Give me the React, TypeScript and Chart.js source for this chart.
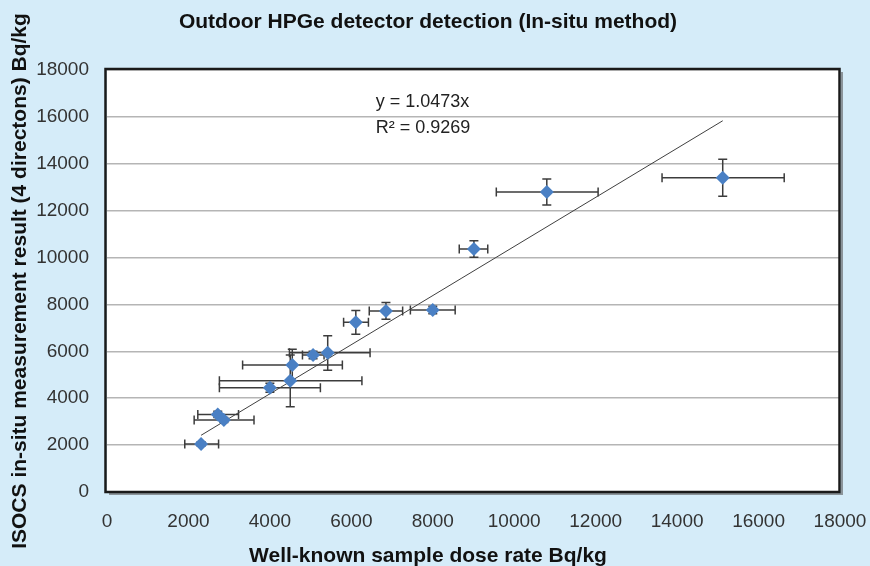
import { useEffect, useRef } from "react";
import { Chart, registerables } from "chart.js";

Chart.register(...registerables);

// Measured points (x: well-known sample dose rate, y: ISOCS in-situ result), Bq/kg
const xValues = [2310, 2720, 2870, 4000, 4500, 4550, 5060, 5420, 6110, 6850, 8000, 9010, 10800, 15120];
const yValues = [2050, 3310, 3070, 4450, 4740, 5420, 5840, 5940, 7240, 7720, 7760, 10370, 12800, 13400];
// Error bar extents
const xLow = [1910, 2230, 2140, 2760, 2760, 3330, 4800, 4480, 5810, 6440, 7450, 8650, 9560, 13630];
const xHigh = [2740, 3230, 3610, 5240, 6260, 5780, 5330, 6460, 6420, 7260, 8550, 9350, 12060, 16630];
const yLow = [1960, 3180, 2960, 4260, 3640, 4750, 5680, 5190, 6730, 7370, 7600, 10010, 12240, 12610];
const yHigh = [2140, 3440, 3180, 4640, 5840, 6090, 6000, 6670, 7740, 8080, 7920, 10720, 13350, 14190];

// Linear trendline through origin
const trendSlope = 1.0473;
const trendR2 = 0.9269;
const trendXStart = 2310;
const trendXEnd = 15120;

// Axis ticks
const axisMin = 0;
const axisMax = 18000;
const axisStep = 2000;

const titleText = "Outdoor HPGe detector detection (In-situ method)";
const xTitle = "Well-known sample dose rate Bq/kg";
const yTitle = "ISOCS in-situ measurement result (4 directons) Bq/kg";
const equationLines = [`y = ${trendSlope}x`, `R² = ${trendR2}`];
const equationAnchor = { x: 6600, y: 16650 };

const BG = "#d5ecf9";
const FONT = "'Liberation Sans', Arial, sans-serif";

export default function App() {
  const canvasRef = useRef<HTMLCanvasElement | null>(null);

  useEffect(() => {
    document.body.style.margin = "0";
    const canvas = canvasRef.current;
    if (!canvas) return;

    const backgroundPlugin = {
      id: "bgPlugin",
      beforeDraw(chart: any) {
        const { ctx, width, height, chartArea } = chart;
        ctx.save();
        ctx.fillStyle = BG;
        ctx.fillRect(0, 0, width, height);
        ctx.fillStyle = "#ffffff";
        ctx.fillRect(chartArea.left, chartArea.top, chartArea.right - chartArea.left, chartArea.bottom - chartArea.top);
        ctx.restore();
      },
    };

    const errorBarPlugin = {
      id: "errorBars",
      beforeDatasetsDraw(chart: any) {
        const { ctx } = chart;
        const xs = chart.scales.x;
        const ys = chart.scales.y;
        const cap = 4.5;
        ctx.save();
        ctx.strokeStyle = "#3c3c3c";
        ctx.lineWidth = 1.5;
        for (let i = 0; i < xValues.length; i++) {
          const px = xs.getPixelForValue(xValues[i]);
          const py = ys.getPixelForValue(yValues[i]);
          const x0 = xs.getPixelForValue(xLow[i]);
          const x1 = xs.getPixelForValue(xHigh[i]);
          const y0 = ys.getPixelForValue(yLow[i]);
          const y1 = ys.getPixelForValue(yHigh[i]);
          ctx.beginPath();
          ctx.moveTo(x0, py);
          ctx.lineTo(x1, py);
          ctx.moveTo(x0, py - cap);
          ctx.lineTo(x0, py + cap);
          ctx.moveTo(x1, py - cap);
          ctx.lineTo(x1, py + cap);
          ctx.moveTo(px, y0);
          ctx.lineTo(px, y1);
          ctx.moveTo(px - cap, y0);
          ctx.lineTo(px + cap, y0);
          ctx.moveTo(px - cap, y1);
          ctx.lineTo(px + cap, y1);
          ctx.stroke();
        }
        ctx.restore();
      },
    };

    const framePlugin = {
      id: "framePlugin",
      afterDraw(chart: any) {
        const { ctx, chartArea } = chart;
        const { left, top, right, bottom } = chartArea;
        ctx.save();
        ctx.strokeStyle = "rgba(90,90,90,0.6)";
        ctx.lineWidth = 2;
        ctx.beginPath();
        ctx.moveTo(right + 2, top + 2);
        ctx.lineTo(right + 2, bottom + 2);
        ctx.lineTo(left + 2, bottom + 2);
        ctx.stroke();
        ctx.strokeStyle = "#1a1a1a";
        ctx.lineWidth = 2.5;
        ctx.strokeRect(left - 1.5, top - 1, right - left + 1, bottom - top + 1);
        const xs = chart.scales.x;
        const ys = chart.scales.y;
        const ex = xs.getPixelForValue(equationAnchor.x);
        const ey = ys.getPixelForValue(equationAnchor.y);
        ctx.fillStyle = "#222222";
        ctx.font = `18px ${FONT}`;
        ctx.textAlign = "left";
        ctx.textBaseline = "middle";
        equationLines.forEach((t, i) => ctx.fillText(t, ex, ey + i * 26));
        ctx.restore();
      },
    };

    const tickFont = { family: FONT, size: 19 };
    const boldFont = { family: FONT, size: 21, weight: "bold" as const };

    const chart = new Chart(canvas, {
      type: "scatter",
      data: {
        datasets: [
          {
            label: "Measured",
            data: xValues.map((x, i) => ({ x, y: yValues[i] })),
            pointStyle: "rectRot",
            pointRadius: 7,
            pointHoverRadius: 7,
            backgroundColor: "#4a80c4",
            borderColor: "#4a80c4",
            borderWidth: 0,
          },
          {
            type: "line",
            label: "Trend",
            data: [trendXStart, trendXEnd].map((x) => ({ x, y: trendSlope * x })),
            borderColor: "#404040",
            borderWidth: 1,
            pointRadius: 0,
            fill: false,
          } as any,
        ],
      },
      options: {
        responsive: false,
        animation: false,
        devicePixelRatio: 1,
        layout: { padding: { left: 16, right: 30, top: 0, bottom: 0 } },
        plugins: {
          legend: { display: false },
          tooltip: { enabled: false },
          title: {
            display: true,
            text: titleText,
            color: "#111111",
            font: boldFont,
            padding: { top: 10, bottom: 34.8 },
          },
          subtitle: {
            display: true,
            position: "bottom",
            text: xTitle,
            color: "#111111",
            font: boldFont,
            padding: { top: 0, bottom: -2.5 },
          },
        },
        scales: {
          x: {
            type: "linear",
            min: axisMin,
            max: axisMax,
            ticks: {
              stepSize: axisStep,
              color: "#333333",
              font: tickFont,
              padding: 0,
              callback: (v: any) => String(v),
            },
            grid: { display: true, drawOnChartArea: false, drawTicks: true, tickLength: 18, tickColor: "rgba(0,0,0,0)" },
            border: { display: false },
            afterFit(scale: any) {
              scale.height = 51.3;
            },
          },
          y: {
            type: "linear",
            min: axisMin,
            max: axisMax,
            ticks: {
              stepSize: axisStep,
              color: "#333333",
              font: tickFont,
              padding: 0,
              callback: (v: any) => String(v),
            },
            grid: { color: "#b5b5b5", lineWidth: 1.5, drawTicks: true, tickLength: 18, tickColor: "rgba(0,0,0,0)" },
            border: { display: false },
            title: {
              display: true,
              text: yTitle,
              color: "#111111",
              font: { ...boldFont, lineHeight: 1 },
              padding: { top: -6.5, bottom: 0 },
            },
            afterFit(scale: any) {
              scale.width = 91;
            },
          },
        },
      },
      plugins: [backgroundPlugin, errorBarPlugin, framePlugin],
    });

    return () => chart.destroy();
  }, []);

  return (
    <div style={{ width: 870, height: 566, background: BG }}>
      <canvas ref={canvasRef} width={870} height={566} />
    </div>
  );
}
